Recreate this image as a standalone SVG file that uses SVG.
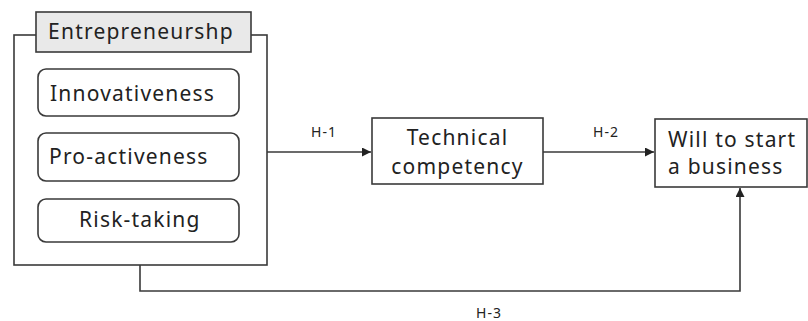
<svg xmlns="http://www.w3.org/2000/svg" width="808" height="321" viewBox="0 0 808 321">
  <style>
    .box { fill: #ffffff; stroke: #3a3a3a; stroke-width: 1.6; }
    .title { fill: #e9e9e9; stroke: #3a3a3a; stroke-width: 1.6; }
    .lbl { font-family: "Noto Sans", "Open Sans", sans-serif; font-size: 21px; letter-spacing: 1.2px; fill: #222222; }
    .hyp { font-family: "Noto Sans", "Open Sans", sans-serif; font-size: 14px; letter-spacing: 1px; fill: #222222; text-anchor: middle; }
    .wire { fill: none; stroke: #3a3a3a; stroke-width: 1.6; }
  </style>
  <defs>
    <marker id="arrow" viewBox="0 0 10 10" refX="10" refY="5" markerWidth="10" markerHeight="9" markerUnits="userSpaceOnUse" orient="auto">
      <path d="M0,0 L10,5 L0,10 z" fill="#222222"/>
    </marker>
  </defs>
  <rect width="808" height="321" fill="#ffffff"/>

  <!-- Entrepreneurship group -->
  <g id="entrepreneurship">
    <rect class="box" x="14" y="35" width="253" height="230"/>
    <rect class="title" x="36" y="12" width="215" height="40"/>
    <text class="lbl" x="141" y="39" text-anchor="middle">Entrepreneurshp</text>
  </g>
  <g id="innovativeness">
    <rect class="box" x="38" y="69" width="201" height="47" rx="8"/>
    <text class="lbl" x="50" y="101">Innovativeness</text>
  </g>
  <g id="pro-activeness">
    <rect class="box" x="38" y="133" width="201" height="48" rx="8"/>
    <text class="lbl" x="49" y="164">Pro-activeness</text>
  </g>
  <g id="risk-taking">
    <rect class="box" x="38" y="199" width="201" height="43" rx="8"/>
    <text class="lbl" x="79" y="227">Risk-taking</text>
  </g>

  <g id="technical-competency">
    <rect class="box" x="372" y="118" width="171" height="66"/>
    <text class="lbl" x="457.5" y="145" text-anchor="middle">Technical</text>
    <text class="lbl" x="457.5" y="174" text-anchor="middle">competency</text>
  </g>

  <g id="will-to-start">
    <rect class="box" x="655" y="119" width="152" height="68"/>
    <text class="lbl" x="668" y="147">Will to start</text>
    <text class="lbl" x="668" y="174">a business</text>
  </g>

  <!-- Hypothesis paths -->
  <g id="connectors">
    <path class="wire" d="M267,152 H371" marker-end="url(#arrow)"/>
    <path class="wire" d="M543,152 H654" marker-end="url(#arrow)"/>
    <path class="wire" d="M140,265 V291 H740 V188" marker-end="url(#arrow)"/>
    <text class="hyp" x="324" y="137">H-1</text>
    <text class="hyp" x="606" y="137">H-2</text>
    <text class="hyp" x="489" y="318">H-3</text>
  </g>
</svg>
